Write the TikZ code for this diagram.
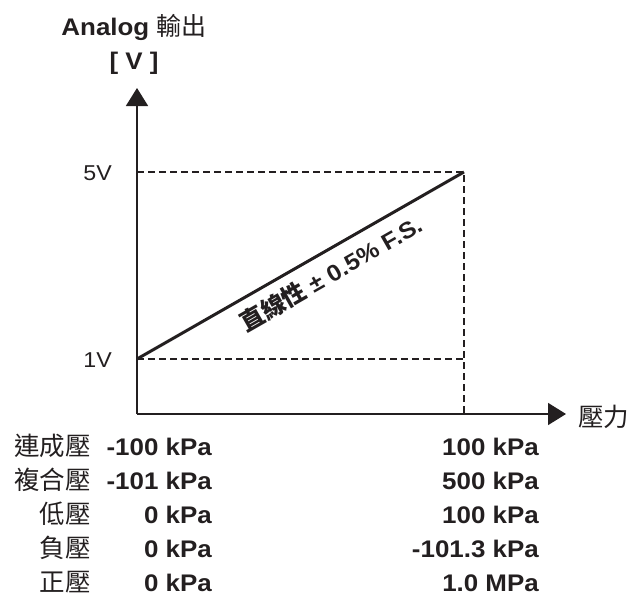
\documentclass[tikz,border=0pt]{standalone}
\usepackage{fontspec}
\setmainfont{Liberation Sans}[FakeStretch=1.08]
\newfontfamily\cjk{Noto Sans CJK TC}
\usetikzlibrary{arrows.meta, positioning}
\definecolor{ink}{RGB}{35,31,32}

\begin{document}
\begin{tikzpicture}[
    x=1pt, y=-1pt,
    >={Triangle[length=18pt, width=22pt]},
    axis/.style={draw=ink, line width=1.6pt},
    guide/.style={draw=ink, line width=1.1pt, dash pattern=on 7pt off 4pt},
    curve/.style={draw=ink, line width=3pt},
    ticklabel/.style={text=ink, font=\fontsize{21.5}{26}\selectfont, anchor=east, inner sep=0pt},
    title/.style={text=ink, font=\bfseries\fontsize{24}{29}\selectfont, inner sep=0pt},
    rangeval/.style={text=ink, font=\bfseries\fontsize{24}{28}\selectfont, anchor=base east, inner sep=0pt},
    sensor/.style={text=ink, font=\cjk\fontsize{25.5}{30}\selectfont, anchor=base east, inner sep=0pt}
]
    \useasboundingbox (0,0) rectangle (632,597);
    % --- 1. Axes ---
    \coordinate (origin) at (137,414);
    \coordinate (ytop) at (137,88);
    \coordinate (xend) at (566,414);
    \draw[axis, ->] (origin) -- (ytop);
    \draw[axis, ->] (origin) -- (xend);
    \node[title] (ytitle) at (134,27) {Analog {\cjk\mdseries\fontsize{25}{30}\selectfont 輸出}};
    \node[title] (yunit) at (134,63) {[ V ]};
    \node[sensor, anchor=west] (xtitle) at (578,417) {壓力};
    % --- 2. Guide lines at 1V and 5V ---
    \coordinate (v5) at (137,172);
    \coordinate (v1) at (137,359);
    \coordinate (fs) at (464,172);
    \coordinate (fsbase) at (464,414);
    \draw[guide] (v5) -- (fs) -- (fsbase);
    \draw[guide] (v1) -- (v1 -| fs);
    \node[ticklabel] (v5label) at (112,173) {5V};
    \node[ticklabel] (v1label) at (112,360) {1V};
    % --- 3. Output line ---
    \draw[curve] (v1) -- (fs)
        node[sloped, pos=0.56, below=9pt, inner sep=0pt, text=ink, font=\bfseries\fontsize{23}{28}\selectfont]
        (linlabel) {{\cjk\fontsize{24}{28}\selectfont 直線性} ± 0.5\% F.S.};
    % --- 4. Pressure ranges ---
    \foreach \kind/\lo/\hi [count=\i] in {連成壓/-100 kPa/100 kPa, 複合壓/-101 kPa/500 kPa,
        低壓/0 kPa/100 kPa, 負壓/0 kPa/-101.3 kPa, 正壓/0 kPa/1.0 MPa} {
        \node[sensor] (kind\i) at (91,421+34*\i) {\kind};
        \node[rangeval] (lo\i) at (212,421+34*\i) {\lo};
        \node[rangeval] (hi\i) at (539,421+34*\i) {\hi};
    }
\end{tikzpicture}
\end{document}
